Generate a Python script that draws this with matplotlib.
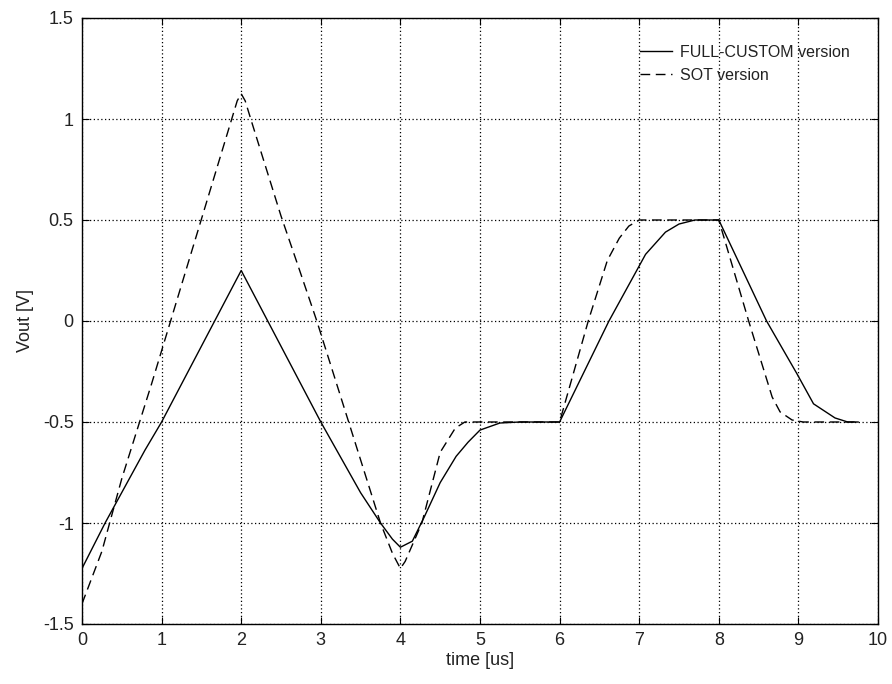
import numpy as np
import matplotlib
matplotlib.use('Agg')
from matplotlib import pyplot as plt

# FULL-CUSTOM version (solid)
full_t = [0.0, 0.29, 0.79, 1.0, 2.0, 3.0, 3.5, 3.75, 3.9, 4.0, 4.15, 4.3, 4.5, 4.7,
          4.85, 5.0, 5.25, 5.5, 6.0, 6.62, 7.08, 7.33, 7.5, 7.7, 8.0, 8.6, 8.98, 9.19,
          9.46, 9.62, 9.75]
full_v = [-1.225, -1.0, -0.64, -0.5, 0.25, -0.5, -0.85, -1.0, -1.08, -1.12, -1.09, -0.97,
          -0.8, -0.67, -0.6, -0.54, -0.505, -0.5, -0.5, 0.0, 0.33, 0.44, 0.48, 0.5, 0.5,
          0.0, -0.26, -0.41, -0.48, -0.5, -0.5]

# SOT version (dashed)
sot_t = [0.0, 0.25, 0.5, 0.875, 1.95, 2.0, 2.05, 2.12, 2.5, 2.7, 2.95, 3.35, 3.75, 3.9,
         4.0, 4.06, 4.27, 4.5, 4.69, 4.81, 6.0, 6.36, 6.6, 6.75, 6.87, 7.0, 8.0, 8.375,
         8.67, 8.77, 8.92, 9.06, 9.75]
sot_v = [-1.4, -1.14, -0.78, -0.31, 1.09, 1.125, 1.09, 1.0, 0.52, 0.29, 0.0, -0.5, -1.0,
         -1.15, -1.225, -1.19, -1.0, -0.65, -0.53, -0.5, -0.5, 0.0, 0.3, 0.41, 0.47, 0.5,
         0.5, 0.0, -0.376, -0.45, -0.49, -0.5, -0.5]

x_ticks = list(range(0, 11))
y_ticks = [-1.5, -1, -0.5, 0, 0.5, 1, 1.5]
y_labels = ['-1.5', '-1', '-0.5', '0', '0.5', '1', '1.5']

plt.rcParams['font.family'] = ['Liberation Sans', 'DejaVu Sans']

fig = plt.figure(figsize=(8.92, 6.84), dpi=100)
ax = fig.add_axes([82 / 892, 1 - 624 / 684, 796 / 892, 606 / 684])

ax.plot(full_t, full_v, color='black', linewidth=1.0, label='FULL-CUSTOM version')
ax.plot(sot_t, sot_v, color='black', linewidth=1.0, linestyle=(0, (7, 4)), label='SOT version')

ax.set_xlim(0, 10)
ax.set_ylim(-1.5, 1.5)
ax.set_xticks(x_ticks)
ax.set_yticks(y_ticks)
ax.set_yticklabels(y_labels)
ax.tick_params(direction='in', length=5, labelsize=13, pad=6, top=True, right=True,
               labelcolor='#222222')
ax.grid(True, color='black', linestyle=(0, (1, 2)), linewidth=0.9)
for s in ax.spines.values():
    s.set_linewidth(1.0)

ax.set_xlabel('time [us]', fontsize=13, labelpad=2, color='#222222')
ax.set_ylabel('Vout [V]', fontsize=13, labelpad=6, color='#222222')

# legend without frame, placed top right like the original
leg = ax.legend(loc='upper left', bbox_to_anchor=(640 / 892, 1 - 45 / 684),
                bbox_transform=fig.transFigure, frameon=False, fontsize=11.5,
                handlelength=2.0, handletextpad=0.5, labelspacing=0.5,
                borderaxespad=0, borderpad=0)
for t in leg.get_texts():
    t.set_color('#222222')

fig.savefig('out.png', dpi=100, facecolor='white')
